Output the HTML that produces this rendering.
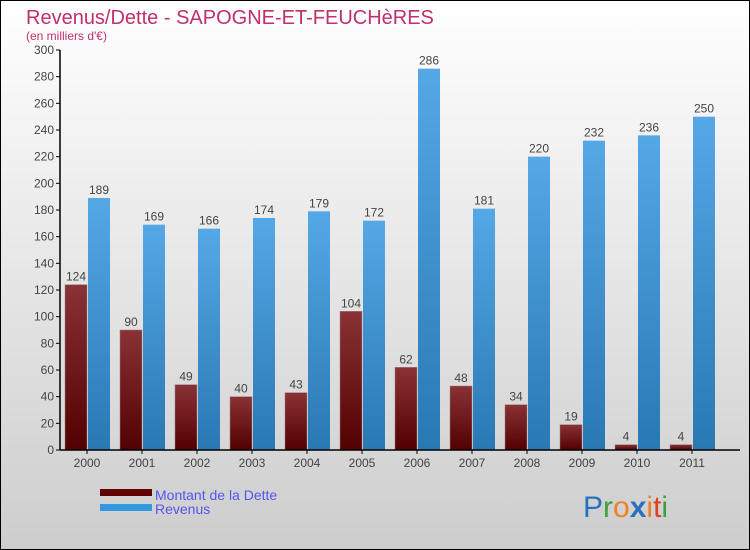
<!DOCTYPE html>
<html><head><meta charset="utf-8"><style>
body{margin:0;width:750px;height:550px;overflow:hidden}
svg{display:block;font-family:"Liberation Sans",sans-serif}
</style></head><body>
<svg id="c" width="750" height="550" xmlns="http://www.w3.org/2000/svg">
<defs>
<linearGradient id="bg" x1="0" y1="0" x2="0" y2="1"><stop offset="0" stop-color="#ffffff"/><stop offset="1" stop-color="#cdcdcd"/></linearGradient>
<linearGradient id="gd" x1="0" y1="0" x2="0" y2="1"><stop offset="0" stop-color="#8a3236"/><stop offset="1" stop-color="#520000"/></linearGradient>
<linearGradient id="gr" x1="0" y1="0" x2="0" y2="1"><stop offset="0" stop-color="#55a8e6"/><stop offset="1" stop-color="#2878b4"/></linearGradient>
</defs>
<rect x="0.5" y="0.5" width="749" height="549" fill="url(#bg)" stroke="#000"/>
<text x="26" y="24" font-size="20" fill="#c0306a">Revenus/Dette - SAPOGNE-ET-FEUCHèRES</text>
<text x="26" y="40" font-size="12" fill="#c0306a">(en milliers d'€)</text>
<g id="plot"></g>
<rect x="100" y="489" width="52" height="7" fill="#600000"/>
<text x="155" y="500" font-size="14" fill="#5555ee">Montant de la Dette</text>
<rect x="100" y="504" width="52" height="7" fill="#3498e0"/>
<text x="155" y="514" font-size="14" fill="#5555ee">Revenus</text>
<g font-size="30" font-family="'Liberation Sans',sans-serif">
<text x="583" y="517"><tspan fill="#2a70c0">P</tspan><tspan fill="#40a040">r</tspan><tspan fill="#f08020">o</tspan><tspan fill="#2a70c0" font-weight="bold">x</tspan><tspan fill="#f08020">i</tspan><tspan fill="#e04020">t</tspan><tspan fill="#40a040">i</tspan></text>
</g>
</svg>
<script>
const years=["2000","2001","2002","2003","2004","2005","2006","2007","2008","2009","2010","2011"];
const dette=[124,90,49,40,43,104,62,48,34,19,4,4];
const revenus=[189,169,166,174,179,172,286,181,220,232,236,250];
const yTicks=[0,20,40,60,80,100,120,140,160,180,200,220,240,260,280,300];
const NS="http://www.w3.org/2000/svg";
const g=document.getElementById('plot');
const y=v=>450-v*400/300;
const x=i=>65+i*55;
function mk(t,a){const e=document.createElementNS(NS,t);for(const k in a)e.setAttribute(k,a[k]);g.appendChild(e);return e;}
yTicks.forEach(t=>{
 const l=mk('line',{x1:56,x2:60,y1:y(t),y2:y(t),stroke:'#000'});
 
 
 const tx=mk('text',{x:54,y:y(t)+4,'text-anchor':'end','font-size':12,fill:'#444'});tx.textContent=t;
 
 
});
years.forEach((yr,i)=>{
 const b1=mk('rect',{x:x(i),y:y(dette[i]),width:22,height:450-y(dette[i]),fill:'url(#gd)',stroke:'#9a8080','stroke-width':0.5});
 
 
 const b2=mk('rect',{x:x(i)+23,y:y(revenus[i]),width:22,height:450-y(revenus[i]),fill:'url(#gr)'});
 
 
 const t1=mk('text',{x:x(i)+11,y:y(dette[i])-4,'text-anchor':'middle','font-size':12,fill:'#444'});t1.textContent=dette[i];
 
 
 const t2=mk('text',{x:x(i)+34,y:y(revenus[i])-4,'text-anchor':'middle','font-size':12,fill:'#444'});t2.textContent=revenus[i];
 
 
 const tk=mk('line',{x1:x(i)+22,x2:x(i)+22,y1:450,y2:454,stroke:'#000'});
 
 
 const xl=mk('text',{x:x(i)+22,y:467,'text-anchor':'middle','font-size':12,fill:'#444'});xl.textContent=yr;
 
 
});
const ya=mk('line',{x1:60,x2:60,y1:50,y2:450,stroke:'#000','stroke-width':1.5});


const xa=mk('line',{x1:60,x2:740,y1:450,y2:450,stroke:'#000','stroke-width':1.5});


</script>
</body></html>
